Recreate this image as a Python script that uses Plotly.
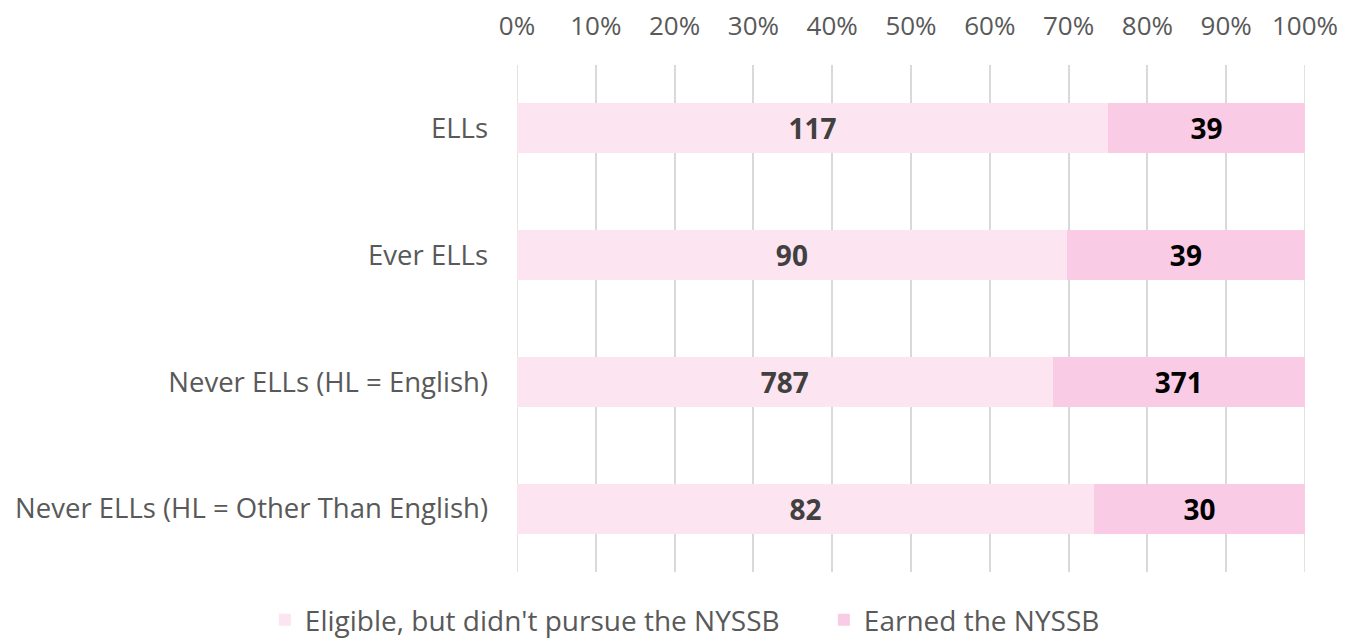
import plotly.graph_objects as go

categories = ["ELLs", "Ever ELLs", "Never ELLs (HL = English)", "Never ELLs (HL = Other Than English)"]
eligible = [117, 90, 787, 82]
earned = [39, 39, 371, 30]
series_names = ["Eligible, but didn't pursue the NYSSB", "Earned the NYSSB"]
tick_vals = [0, 10, 20, 30, 40, 50, 60, 70, 80, 90, 100]

FONT = "Open Sans, Liberation Sans, sans-serif"
GRID = "#D9D9D9"

fig = go.Figure()
fig.add_trace(go.Bar(
    y=categories, x=eligible, orientation="h", name=series_names[0],
    marker=dict(color="#FCE4F1", line=dict(width=0)),
    text=[str(v) for v in eligible], textposition="inside", insidetextanchor="middle",
    textfont=dict(family=FONT, size=28, color="#404040", weight="bold"),
    constraintext="none", width=0.395,
))
fig.add_trace(go.Bar(
    y=categories, x=earned, orientation="h", name=series_names[1],
    marker=dict(color="#F9CBE5", line=dict(width=0)),
    text=[str(v) for v in earned], textposition="inside", insidetextanchor="middle",
    textfont=dict(family=FONT, size=28, color="#000000", weight="bold"),
    constraintext="none", width=0.395,
))

# edge gridlines (0% and 100%)
for gx in (tick_vals[0], tick_vals[-1]):
    fig.add_shape(type="line", xref="x", yref="paper", x0=gx, x1=gx, y0=0, y1=1,
                  line=dict(color=GRID, width=1.5), layer="below")

fig.update_layout(
    barmode="stack", barnorm="percent",
    width=1351, height=640,
    margin=dict(l=509, r=54, t=57, b=76, autoexpand=False),
    paper_bgcolor="white", plot_bgcolor="white",
    font=dict(family=FONT, size=27, color="#595959"),
    legend=dict(orientation="h", x=-0.32, xanchor="left",
                y=-0.0947, yanchor="middle",
                entrywidth=514, entrywidthmode="pixels",
                font=dict(family=FONT, size=28, color="#595959"),
                traceorder="normal"),
    xaxis=dict(side="top", range=[0, 100], tickvals=tick_vals,
               ticktext=[f"{v}%" for v in tick_vals],
               showgrid=True, gridcolor=GRID, gridwidth=1.5,
               zeroline=False, showline=False, ticks="", automargin=False,
               ticklabelstandoff=24,
               tickfont=dict(family=FONT, size=26, color="#595959")),
    yaxis=dict(autorange="reversed", showgrid=False, showline=False, ticks="",
               automargin=False, ticklabelstandoff=28,
               tickfont=dict(family=FONT, size=27.5, color="#595959")),
)

fig.write_html("out.html")
